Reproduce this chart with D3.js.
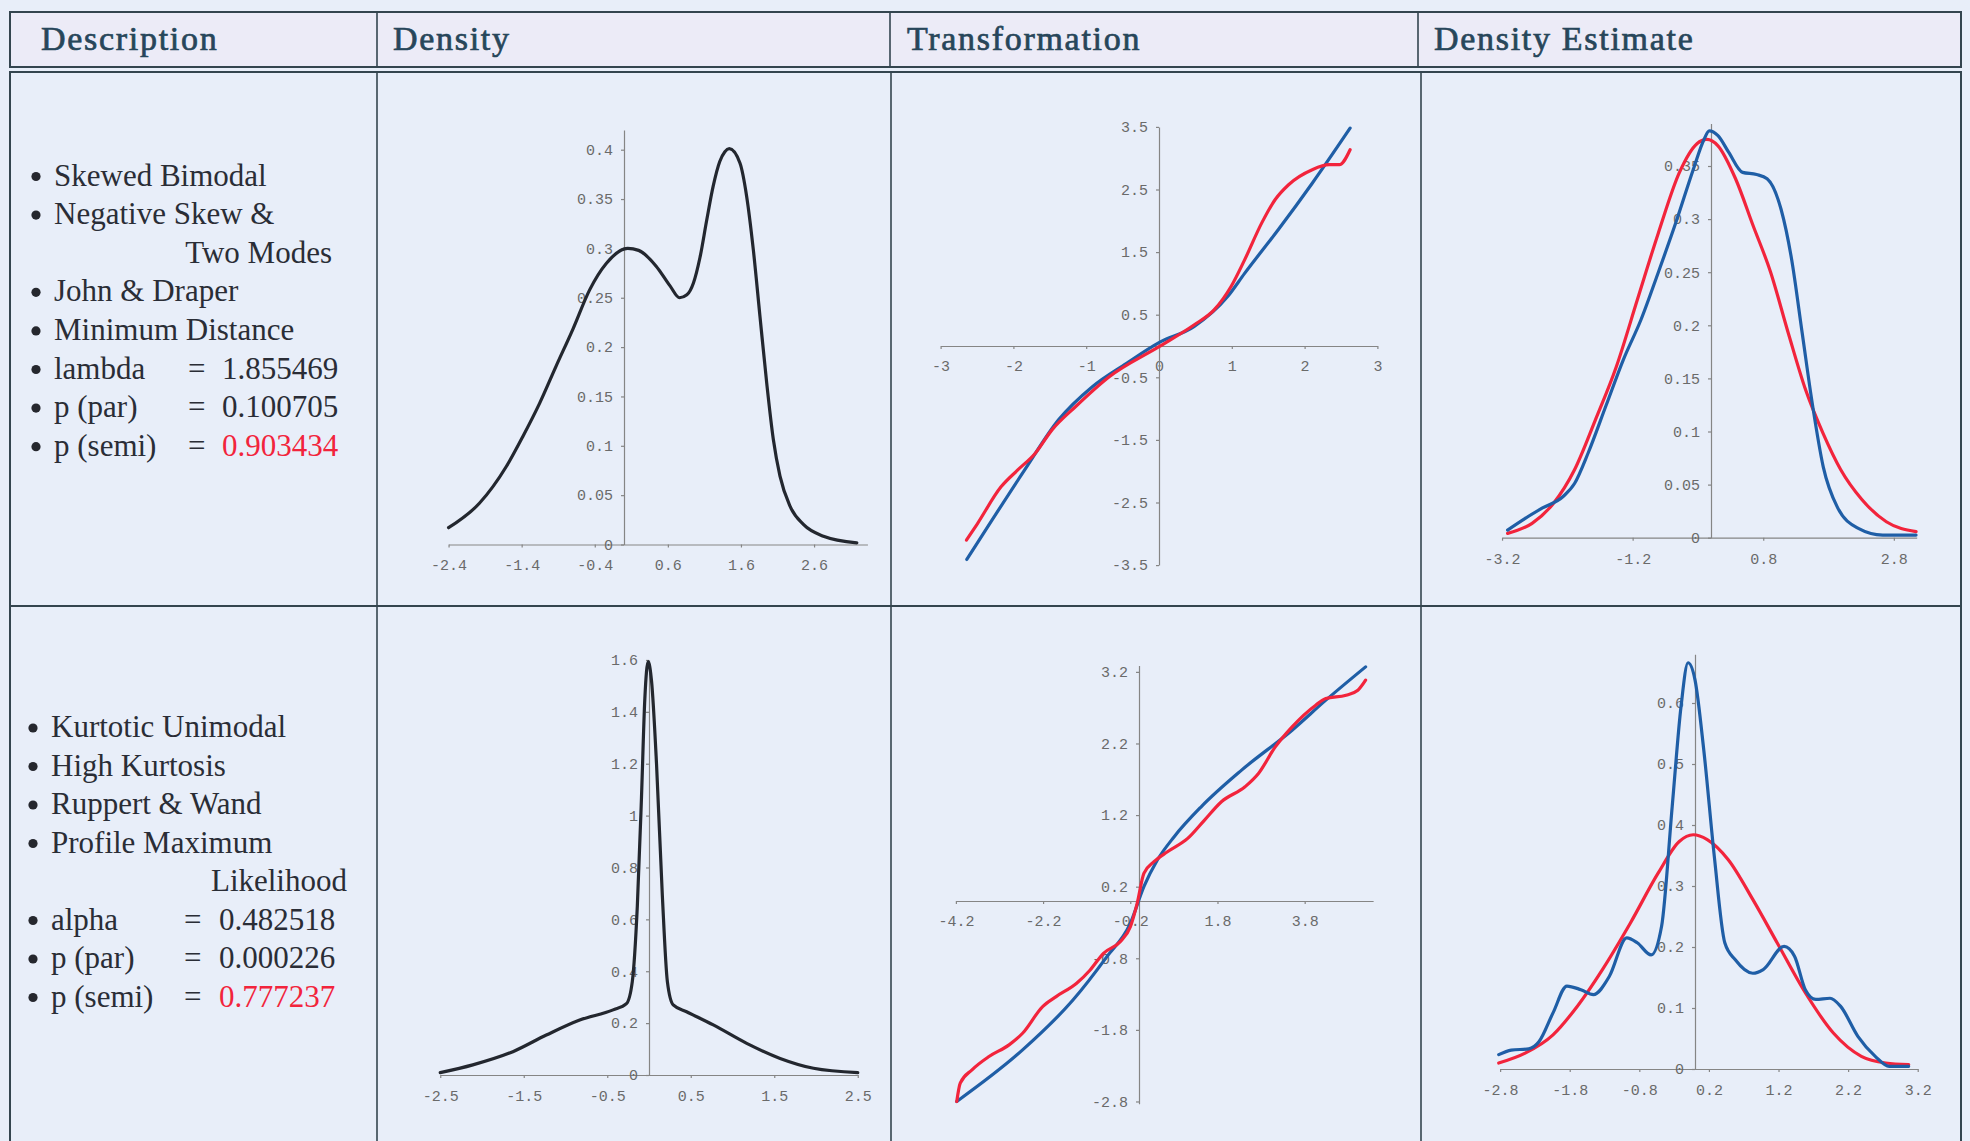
<!DOCTYPE html>
<meta charset="utf-8">
<style>
body { margin: 0; background: #e8eef9; }
svg { display: block; }
.head { font: 34px "Liberation Serif", serif; fill: #27465a; stroke: #27465a; stroke-width: 0.7px; letter-spacing: 1.7px; }
.desc { font: 31px "Liberation Serif", serif; fill: #2a2d36; }
.axis .tick text { font: 15px "Liberation Mono", monospace; fill: #6a6a6a; }
.axis path, .axis line { stroke: #858585; stroke-width: 1.2; }
.curve { fill: none; stroke-width: 3.2; stroke-linejoin: round; stroke-linecap: round; }
</style>
<body>
<div id="chart"></div>
<script src="https://d3js.org/d3.v7.min.js"></script>
<script>
// ---- data ----
var headers = ["Description", "Density", "Transformation", "Density Estimate"];

var descTopLines = [["Skewed Bimodal"], ["Negative Skew &", "Two Modes"], ["John & Draper"], ["Minimum Distance"]];
var statTopNames = ["lambda", "p (par)", "p (semi)"];
var statTopValues = ["1.855469", "0.100705", "0.903434"];

var descBottomLines = [["Kurtotic Unimodal"], ["High Kurtosis"], ["Ruppert & Wand"], ["Profile Maximum", "Likelihood"]];
var statBottomNames = ["alpha", "p (par)", "p (semi)"];
var statBottomValues = ["0.482518", "0.000226", "0.777237"];

// skewed bimodal, true density
var bimodalDensity = [[-2.4,0.017],[-1.975,0.042],[-1.61,0.079],[-1.38,0.110],[-1.155,0.143],[-0.927,0.181],
  [-0.70,0.218],[-0.47,0.258],[-0.24,0.285],[0.05,0.300],[0.2,0.298],[0.44,0.282],[0.63,0.262],[0.76,0.250],
  [0.86,0.253],[0.95,0.265],[1.04,0.291],[1.13,0.328],[1.22,0.363],[1.31,0.388],[1.38,0.398],[1.44,0.401],
  [1.586,0.3865],[1.678,0.3527],[1.769,0.2987],[1.86,0.2312],[1.952,0.1637],[2.043,0.1063],[2.134,0.0692],
  [2.271,0.0388],[2.454,0.0203],[2.728,0.0084],[3.185,0.0017]];
var bimodalTransBlue = [[-2.64,-3.41],[-1.845,-1.98],[-1.38,-1.18],[-0.915,-0.65],[-0.45,-0.28],[0,0.053],
  [0.48,0.31],[0.943,0.79],[1.176,1.16],[1.64,1.86],[2.105,2.60],[2.625,3.48]];
var bimodalTransRed = [[-2.644,-3.10],[-2.495,-2.84],[-2.17,-2.25],[-1.94,-1.98],[-1.705,-1.72],[-1.47,-1.34],
  [-1.148,-0.97],[-0.683,-0.49],[0,-0.01],[0.48,0.336],[0.757,0.576],[0.99,0.95],[1.176,1.376],[1.41,1.963],
  [1.594,2.336],[1.78,2.576],[2.105,2.816],[2.337,2.896],[2.477,2.896],[2.625,3.136]];
var bimodalEstBlue = [[-3.115,0.0072],[-2.85,0.018],[-2.58,0.028],[-2.26,0.039],[-2.09,0.051],[-1.88,0.080],
  [-1.61,0.124],[-1.34,0.168],[-1.074,0.205],[-0.806,0.250],[-0.537,0.297],[-0.27,0.347],[-0.107,0.375],
  [-0.027,0.383],[0.107,0.3785],[0.27,0.363],[0.483,0.344],[0.698,0.342],[0.859,0.338],[1.074,0.309],
  [1.235,0.262],[1.396,0.193],[1.557,0.124],[1.718,0.067],[1.933,0.029],[2.256,0.0088],[2.63,0.0025],[3.14,0.0025]];
var bimodalEstRed = [[-3.115,0.0041],[-2.74,0.0135],[-2.417,0.032],[-2.09,0.064],[-1.77,0.111],[-1.45,0.161],
  [-1.128,0.224],[-0.806,0.287],[-0.483,0.344],[-0.215,0.371],[-0.064,0.375],[0.107,0.369],[0.376,0.338],
  [0.644,0.294],[0.913,0.250],[1.182,0.193],[1.45,0.139],[1.718,0.098],[1.987,0.064],[2.31,0.036],
  [2.685,0.015],[3.14,0.0057]];

// kurtotic unimodal
var kurtoticDensity = [[-2.5,0.009],[-2.11,0.039],[-1.63,0.09],[-1.23,0.154],[-0.83,0.212],[-0.43,0.251],
  [-0.27,0.275],[-0.2,0.36],[-0.14,0.65],[-0.09,1.07],[-0.05,1.45],[-0.01,1.594],[0.03,1.52],[0.09,1.2],
  [0.16,0.69],[0.22,0.36],[0.29,0.27],[0.45,0.244],[0.77,0.193],[1.17,0.122],[1.57,0.064],[1.97,0.026],[2.5,0.009]];
var kurtoticTransBlue = [[-4.18,-2.80],[-2.67,-2.08],[-1.51,-1.38],[-0.74,-0.78],[-0.197,-0.31],[0.112,0.2],
  [0.421,0.572],[0.807,0.898],[1.426,1.316],[2.353,1.828],[3.512,2.386],[4.285,2.805],[5.197,3.27]];
var kurtoticTransRed = [[-4.18,-2.80],[-4.10,-2.544],[-3.83,-2.358],[-3.44,-2.172],[-2.98,-2.009],[-2.67,-1.847],
  [-2.21,-1.474],[-1.90,-1.335],[-1.43,-1.149],[-1.12,-0.963],[-0.815,-0.73],[-0.43,-0.567],[-0.197,-0.358],
  [-0.042,-0.033],[0.112,0.386],[0.344,0.549],[0.653,0.688],[1.117,0.874],[1.503,1.13],[1.89,1.386],
  [2.431,1.595],[2.74,1.781],[3.126,2.153],[3.512,2.433],[4.053,2.735],[4.285,2.828],[4.749,2.874],
  [5.02,2.944],[5.197,3.084]];
var kurtoticEstBlue = [[-2.82,0.0235],[-2.64,0.031],[-2.39,0.033],[-2.24,0.045],[-2.04,0.092],[-1.84,0.136],
  [-1.64,0.130],[-1.46,0.122],[-1.23,0.152],[-0.98,0.215],[-0.83,0.207],[-0.63,0.187],[-0.48,0.234],
  [-0.327,0.431],[-0.20,0.595],[-0.10,0.666],[0,0.638],[0.126,0.523],[0.277,0.349],[0.428,0.207],
  [0.579,0.179],[0.83,0.157],[0.98,0.163],[1.28,0.201],[1.43,0.185],[1.585,0.130],[1.736,0.114],
  [1.94,0.116],[2.09,0.103],[2.34,0.0536],[2.59,0.0208],[2.79,0.0044],[3.07,0.0044]];
var kurtoticEstRed = [[-2.82,0.0098],[-2.44,0.026],[-2.04,0.056],[-1.69,0.103],[-1.33,0.163],[-0.93,0.239],
  [-0.53,0.321],[-0.226,0.373],[-0.025,0.384],[0.176,0.376],[0.478,0.343],[0.83,0.278],[1.18,0.207],
  [1.585,0.125],[1.988,0.059],[2.39,0.0208],[2.74,0.0098],[3.07,0.0071]];

// tick labels
var p1XTicks = [-2.4, -1.4, -0.4, 0.6, 1.6, 2.6];
var p1YTicks = [0, 0.05, 0.1, 0.15, 0.2, 0.25, 0.3, 0.35, 0.4];
var p2XTicks = [-3, -2, -1, 0, 1, 2, 3];
var p2YTicks = [-3.5, -2.5, -1.5, -0.5, 0.5, 1.5, 2.5, 3.5];
var p3XTicks = [-3.2, -1.2, 0.8, 2.8];
var p3YTicks = [0, 0.05, 0.1, 0.15, 0.2, 0.25, 0.3, 0.35];
var p4XTicks = [-2.5, -1.5, -0.5, 0.5, 1.5, 2.5];
var p4YTicks = [0, 0.2, 0.4, 0.6, 0.8, 1, 1.2, 1.4, 1.6];
var p5XTicks = [-4.2, -2.2, -0.2, 1.8, 3.8];
var p5YTicks = [-2.8, -1.8, -0.8, 0.2, 1.2, 2.2, 3.2];
var p6XTicks = [-2.8, -1.8, -0.8, 0.2, 1.2, 2.2, 3.2];
var p6YTicks = [0, 0.1, 0.2, 0.3, 0.4, 0.5, 0.6];

// ---- drawing ----
var width = 1970, height = 1141;
var BLACK = "#23272f", BLUE = "#1f5ea6", RED = "#f2243c", LINE = "#34454f";

var svg = d3.select("#chart").append("svg")
  .attr("width", width)
  .attr("height", height);

// table frame
svg.append("rect").attr("x", 10).attr("y", 12).attr("width", 1951).attr("height", 55)
  .attr("fill", "#ecebf7").attr("stroke", LINE).attr("stroke-width", 2);
svg.append("rect").attr("x", 10).attr("y", 72).attr("width", 1951).attr("height", 1100)
  .attr("fill", "#e8eef9").attr("stroke", LINE).attr("stroke-width", 2);
[377, 890, 1418].forEach(function(x) {
  svg.append("line").attr("x1", x).attr("x2", x).attr("y1", 12).attr("y2", 67)
    .attr("stroke", LINE).attr("stroke-width", 1.6);
});
[377, 891, 1421].forEach(function(x) {
  svg.append("line").attr("x1", x).attr("x2", x).attr("y1", 72).attr("y2", height)
    .attr("stroke", LINE).attr("stroke-width", 1.6);
});
svg.append("line").attr("x1", 10).attr("x2", 1961).attr("y1", 606).attr("y2", 606)
  .attr("stroke", LINE).attr("stroke-width", 2);

var headX = [41, 393, 907, 1434];
svg.selectAll(".head").data(headers).enter().append("text")
  .attr("class", "head")
  .attr("x", function(d, i) { return headX[i]; })
  .attr("y", 50)
  .text(function(d) { return d; });

function drawDescription(lines, names, values, o) {
  var g = svg.append("g");
  var row = 0;
  function bullet(y) {
    g.append("circle").attr("cx", o.bx).attr("cy", y - 9).attr("r", 4.6).attr("fill", "#25272e");
  }
  lines.forEach(function(item) {
    var y = o.y0 + row * o.step;
    bullet(y);
    g.append("text").attr("class", "desc").attr("x", o.tx).attr("y", y).text(item[0]);
    row++;
    if (item.length > 1) {
      g.append("text").attr("class", "desc").attr("x", o.wrapEnd).attr("y", o.y0 + row * o.step)
        .attr("text-anchor", "end").text(item[1]);
      row++;
    }
  });
  names.forEach(function(n, i) {
    var y = o.y0 + row * o.step;
    bullet(y);
    g.append("text").attr("class", "desc").attr("x", o.tx).attr("y", y).text(n);
    g.append("text").attr("class", "desc").attr("x", o.eq).attr("y", y).text("=");
    g.append("text").attr("class", "desc").attr("x", o.vx).attr("y", y)
      .style("fill", i == names.length - 1 ? RED : null)
      .text(values[i]);
    row++;
  });
}

drawDescription(descTopLines, statTopNames, statTopValues,
  {bx: 36, tx: 54, y0: 185.5, step: 38.6, wrapEnd: 332, eq: 188, vx: 222});
drawDescription(descBottomLines, statBottomNames, statBottomValues,
  {bx: 33, tx: 51, y0: 737, step: 38.5, wrapEnd: 347, eq: 184, vx: 219});

var panels = [
  {ox: 624, oy: 544.5, kx: 73.1, ky: 987, xExt: [-2.4, 3.33], yExt: [0, 0.42],
   xTicks: p1XTicks, yTicks: p1YTicks, pad: 12, series: [[bimodalDensity, BLACK]]},
  {ox: 1159, oy: 346, kx: 72.8, ky: 62.6, xExt: [-3, 3], yExt: [-3.5, 3.5],
   xTicks: p2XTicks, yTicks: p2YTicks, pad: 11, series: [[bimodalTransBlue, BLUE], [bimodalTransRed, RED]]},
  {ox: 1711, oy: 537.7, kx: 65.3, ky: 1062, xExt: [-3.2, 3.15], yExt: [0, 0.39],
   xTicks: p3XTicks, yTicks: p3YTicks, pad: 13, series: [[bimodalEstRed, RED], [bimodalEstBlue, BLUE]]},
  {ox: 649, oy: 1075, kx: 83.5, ky: 259.4, xExt: [-2.5, 2.5], yExt: [0, 1.6],
   xTicks: p4XTicks, yTicks: p4YTicks, pad: 12, series: [[kurtoticDensity, BLACK]]},
  {ox: 1139, oy: 901, kx: 43.6, ky: 71.6, xExt: [-4.2, 5.37], yExt: [-2.83, 3.29],
   xTicks: p5XTicks, yTicks: p5YTicks, pad: 11, series: [[kurtoticTransBlue, BLUE], [kurtoticTransRed, RED]]},
  {ox: 1695, oy: 1069, kx: 69.6, ky: 610, xExt: [-2.8, 3.2], yExt: [0, 0.68],
   xTicks: p6XTicks, yTicks: p6YTicks, pad: 12, series: [[kurtoticEstRed, RED], [kurtoticEstBlue, BLUE]]}
];

panels.forEach(function(p) {
  var x = d3.scaleLinear().domain(p.xExt)
    .range([p.ox + p.xExt[0] * p.kx, p.ox + p.xExt[1] * p.kx]);
  var y = d3.scaleLinear().domain(p.yExt)
    .range([p.oy - p.yExt[0] * p.ky, p.oy - p.yExt[1] * p.ky]);
  var g = svg.append("g");

  g.append("g").attr("class", "axis")
    .attr("transform", "translate(0," + y(0) + ")")
    .call(d3.axisBottom(x).tickValues(p.xTicks).tickFormat(String)
      .tickSize(3).tickSizeOuter(0).tickPadding(p.pad));
  g.append("g").attr("class", "axis")
    .attr("transform", "translate(" + x(0) + ",0)")
    .call(d3.axisLeft(y).tickValues(p.yTicks).tickFormat(String)
      .tickSize(3).tickSizeOuter(0).tickPadding(8));

  var line = d3.line()
    .x(function(d) { return x(d[0]); })
    .y(function(d) { return y(d[1]); })
    .curve(d3.curveMonotoneX);

  p.series.forEach(function(s) {
    g.append("path").attr("class", "curve")
      .attr("d", line(s[0]))
      .attr("stroke", s[1]);
  });
});
</script>
</body>
